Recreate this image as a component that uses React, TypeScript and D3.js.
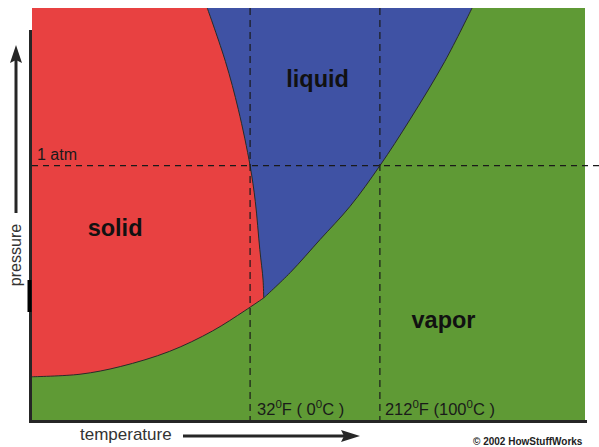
import * as d3 from "d3";

// phase boundaries, temperature in °C and pressure in atm
const fusionT = [-33, -19, -9, 0, 4, 7.5, 10, 10.5];
const fusionP = [1.62, 1.41, 1.22, 1.0, 0.86, 0.67, 0.55, 0.48];
const vaporT = [10.5, 31, 54, 77, 100, 123, 150, 171];
const vaporP = [0.48, 0.58, 0.71, 0.84, 1.0, 1.18, 1.41, 1.62];
const sublimT = [-168, -131, -100, -62, -29, -4, 10.5];
const sublimP = [0.17, 0.18, 0.21, 0.27, 0.35, 0.43, 0.48];

const markerTemps = [0, 100];
const markerLabels = [
  ["32", "F ( 0", "C )"],
  ["212", "F (100", "C )"],
];
const atmLevel = 1;
const phaseLabels = [
  { name: "liquid", t: 52, p: 1.31 },
  { name: "solid", t: -104, p: 0.725 },
  { name: "vapor", t: 149, p: 0.36 },
];

const W = 599;
const H = 447;
const left = 32;
const right = 585;
const top = 8;
const bottom = 420;

const zip = (a: number[], b: number[]) =>
  a.map((v, i) => [v, b[i]] as [number, number]);

const App = () => {
  const x = d3.scaleLinear().domain([-168, 258]).range([left, right]);
  const y = d3.scaleLinear().domain([0, 1.62]).range([bottom, top]);

  const line = d3
    .line<[number, number]>()
    .x((d) => x(d[0]))
    .y((d) => y(d[1]))
    .curve(d3.curveCatmullRom.alpha(0.5));

  const fusion = zip(fusionT, fusionP);
  const vapor = zip(vaporT, vaporP);
  const sublim = zip(sublimT, sublimP);

  const asL = (s: string | null) => (s || "").replace(/^M/, "L");

  const redPath =
    `M${left},${top}` +
    asL(line(fusion)) +
    asL(line(sublim.slice().reverse())) +
    `L${left},${bottom}Z`;
  const bluePath = (line(fusion) || "") + asL(line(vapor)) + "Z";

  const ink = "#1a1a1a";
  const font = "'Liberation Sans', Arial, sans-serif";

  return (
    <svg
      width={W}
      height={H}
      style={{ position: "absolute", left: 0, top: 0, background: "#fff" }}
      fontFamily={font}
    >
      <rect
        x={left}
        y={top}
        width={right - left}
        height={bottom - top}
        fill="#5f9a35"
      />
      <path d={redPath} fill="#e84141" />
      <path d={bluePath} fill="#3f52a4" />
      {[fusion, vapor, sublim].map((c, i) => (
        <path key={i} d={line(c) || ""} fill="none" stroke="#2a2a2a" strokeWidth={1} />
      ))}

      {/* dashed guides */}
      {markerTemps.map((t) => (
        <line
          key={t}
          x1={x(t)}
          x2={x(t)}
          y1={top}
          y2={bottom}
          stroke={ink}
          strokeWidth={1.2}
          strokeDasharray="7,5"
        />
      ))}
      <line
        x1={left}
        x2={W}
        y1={y(atmLevel)}
        y2={y(atmLevel)}
        stroke={ink}
        strokeWidth={1.2}
        strokeDasharray="6,5"
      />
      <text x={left + 5} y={y(atmLevel) - 6} fontSize={16} fill={ink}>
        1 atm
      </text>

      {markerTemps.map((t, i) => (
        <text key={t} x={x(t) + 7 - i * 2} y={415} fontSize={16.5} fill={ink}>
          <tspan>{markerLabels[i][0]}</tspan>
          <tspan dy={-7} fontSize={11.5}>0</tspan>
          <tspan dy={7}>{markerLabels[i][1]}</tspan>
          <tspan dy={-7} fontSize={11.5}>0</tspan>
          <tspan dy={7}>{markerLabels[i][2]}</tspan>
        </text>
      ))}

      {phaseLabels.map((d) => (
        <text
          key={d.name}
          x={x(d.t)}
          y={y(d.p)}
          fontSize={23.5}
          fontWeight="bold"
          textAnchor="middle"
          fill="#111"
        >
          {d.name}
        </text>
      ))}

      {/* axes */}
      <line x1={30.5} x2={30.5} y1={30} y2={bottom + 3} stroke="#262626" strokeWidth={3} />
      <line x1={29.5} x2={29.5} y1={280} y2={312} stroke="#000" strokeWidth={4} />
      <line x1={29} x2={right + 2} y1={bottom + 1.5} y2={bottom + 1.5} stroke="#262626" strokeWidth={3} />

      {/* pressure arrow */}
      <line x1={16} x2={16} y1={60} y2={213} stroke="#262626" strokeWidth={3} />
      <path d="M16,45L10,63L16,60L22,63Z" fill="#262626" />
      <text
        transform="translate(21,255) rotate(-90)"
        textAnchor="middle"
        fontSize={16}
        fill="#333"
      >
        pressure
      </text>

      {/* temperature arrow */}
      <text x={80} y={440} fontSize={17} fill="#333">
        temperature
      </text>
      <line x1={183} x2={346} y1={436} y2={436} stroke="#262626" strokeWidth={3} />
      <path d="M360,436L341,430L344,436L341,442Z" fill="#262626" />

      <text x={473} y={445} fontSize={10} fontWeight="bold" fill="#222">
        © 2002 HowStuffWorks
      </text>
    </svg>
  );
};

export default App;
